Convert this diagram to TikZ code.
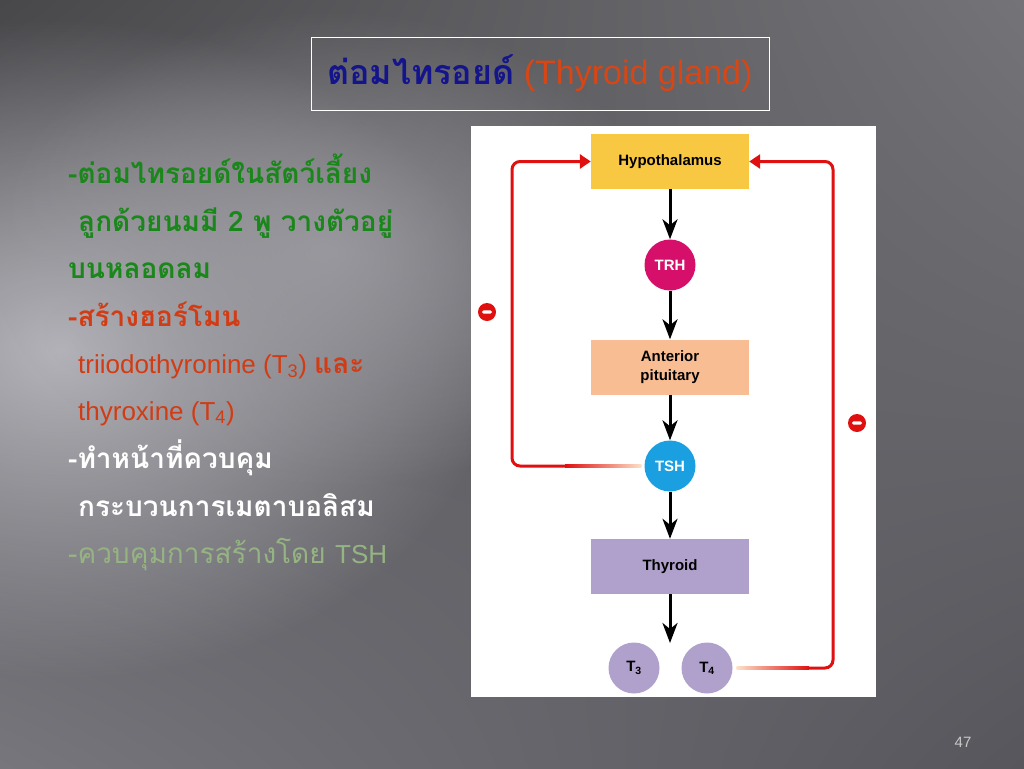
\documentclass[tikz,border=0pt]{standalone}
\usepackage{fontspec}
\setmainfont{Liberation Sans}
\newfontfamily\thai[Script=Thai]{Loma}
\usetikzlibrary{arrows.meta,fadings,shadings}
\definecolor{bgUL}{RGB}{72,72,75}
\definecolor{bgUR}{RGB}{116,116,120}
\definecolor{bgLL}{RGB}{118,118,124}
\definecolor{bgLR}{RGB}{86,86,92}
\definecolor{bgL1}{RGB}{180,180,186}
\definecolor{bgL2}{RGB}{160,160,166}
\definecolor{tblue}{RGB}{20,20,140}
\definecolor{torange}{RGB}{215,70,20}
\definecolor{tgreen}{RGB}{25,135,25}
\definecolor{tred}{RGB}{210,60,20}
\definecolor{tpale}{RGB}{150,180,130}
\definecolor{pgc}{RGB}{200,200,200}
\definecolor{hypc}{RGB}{248,200,66}
\definecolor{trhc}{RGB}{214,16,106}
\definecolor{antc}{RGB}{249,189,148}
\definecolor{tshc}{RGB}{26,160,224}
\definecolor{thyc}{RGB}{176,160,204}
\definecolor{fbred}{RGB}{224,16,16}
\definecolor{fbfade}{RGB}{252,225,200}
\tikzfading[name=softblob, inner color=transparent!0, outer color=transparent!100]
\begin{document}
\begin{tikzpicture}[x=1pt,y=-1pt,
  txt/.style={anchor=base west, inner sep=0pt, font=\fontsize{26}{30}\selectfont},
  thtxt/.style={txt, font=\fontsize{28}{32}\selectfont\thai},
  box/.style={rectangle, minimum width=158pt, minimum height=55pt, inner sep=0pt, align=center, font=\fontsize{15}{19}\selectfont\bfseries},
  circ/.style={circle, minimum size=51pt, inner sep=0pt, font=\fontsize{15}{18}\selectfont\bfseries},
  blk/.style={line width=3pt, -{Stealth[length=20pt,width=15pt,inset=6pt]}},
  fb/.style={draw=fbred, line width=3pt, rounded corners=8pt},
  fbarrow/.style={fb, -{Triangle[length=11pt,width=14pt]}},
  minus/.style={circle, fill=fbred, minimum size=18pt, inner sep=0pt,
    path picture={\fill[white, rounded corners=1.5pt] ([xshift=-5pt,yshift=-1.6pt]path picture bounding box.center) rectangle ++(10pt,3.2pt);}}
]
\useasboundingbox (0,0) rectangle (1024,768);
\shade[upper left=bgUL, upper right=bgUR, lower left=bgLL, lower right=bgLR] (0,0) rectangle (1024,768);
\fill[bgL1, path fading=softblob] (60,350) ellipse [x radius=440pt, y radius=330pt];
\fill[bgL2, path fading=softblob, opacity=0.8] (330,250) ellipse [x radius=340pt, y radius=240pt];

% title
\node (title) [draw=white, line width=0.9pt, minimum width=458pt, minimum height=73pt, inner sep=0pt,
  font=\fontsize{34}{40}\selectfont] at (540,73.5)
  {{\thai\bfseries\color{tblue}ต่อมไทรอยด์} {\color{torange}(Thyroid gland)}};

% left text
\node[thtxt, text=tgreen] (l1) at (68,183) {\bfseries -ต่อมไทรอยด์ในสัตว์เลี้ยง};
\node[thtxt, text=tgreen] (l2) at (78,231) {\bfseries ลูกด้วยนมมี 2 พู วางตัวอยู่};
\node[thtxt, text=tgreen] (l3) at (68,278) {\bfseries บนหลอดลม};
\node[thtxt, text=tred] (l4) at (68,326) {\bfseries -สร้างฮอร์โมน};
\node[txt, text=tred] (l5) at (78,373) {triiodothyronine (T\textsubscript{3}) {\fontsize{28}{32}\selectfont\thai\bfseries และ}};
\node[txt, text=tred] (l6) at (78,420) {thyroxine (T\textsubscript{4})};
\node[thtxt, text=white] (l7) at (68,468) {\bfseries -ทำหน้าที่ควบคุม};
\node[thtxt, text=white] (l8) at (78,516) {\bfseries กระบวนการเมตาบอลิสม};
\node[thtxt, text=tpale] (l9) at (68,563) {-ควบคุมการสร้างโดย {\fontsize{26}{30}\selectfont\rmfamily TSH}};

% panel
\node (panel) [fill=white, minimum width=405pt, minimum height=571pt, inner sep=0pt, anchor=north west] at (471,126) {};

% boxes and circles
\node[box, fill=hypc] (hyp) at (670,161.5) {Hypothalamus};
\node[circ, fill=trhc, text=white] (trh) at (670,265) {TRH};
\node[box, fill=antc] (ant) at (670,367) {Anterior\\pituitary};
\node[circ, fill=tshc, text=white] (tsh) at (670,466) {TSH};
\node[box, fill=thyc] (thy) at (670,566.5) {Thyroid};
\node[circ, fill=thyc] (t3) at (634,668) {T\textsubscript{3}};
\node[circ, fill=thyc] (t4) at (707,668) {T\textsubscript{4}};
\coordinate (tout) at (670,643);

% black arrows
\draw[blk] (hyp.south) -- (trh.north);
\draw[blk] (trh.south) -- (ant.north);
\draw[blk] (ant.south) -- (tsh.north);
\draw[blk] (tsh.south) -- (thy.north);
\draw[blk] (thy.south) -- (tout);

% feedback
\coordinate (lfade) at (566,466);
\coordinate (rfade) at (808,668);
\draw[fbarrow] (lfade) -- (512,466) -- (512,161.5) -- (hyp.west);
\draw[fbarrow] (rfade) -- (833,668) -- (833,161.5) -- (hyp.east);
\shade[left color=fbred, right color=fbfade] (565,464.5) rectangle ([xshift=-3pt]tsh.west |- 0,467.5);
\shade[left color=fbfade, right color=fbred] ([xshift=4pt]t4.east |- 0,666.5) rectangle (809,669.5);

\node[minus] (m1) at (487,312) {};
\node[minus] (m2) at (857,423) {};

\node (pg) [font=\fontsize{15}{18}\selectfont, text=pgc] at (963,742) {47};
\end{tikzpicture}
\end{document}
